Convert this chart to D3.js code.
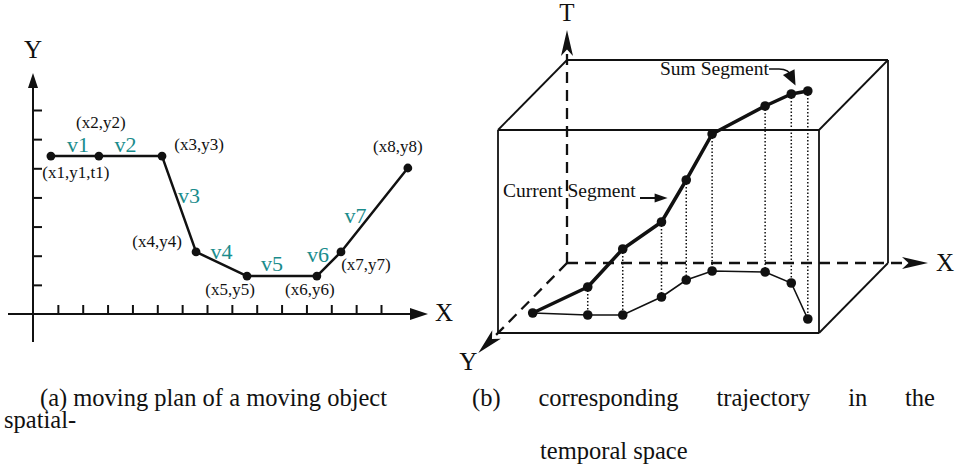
<!DOCTYPE html>
<html>
<head>
<meta charset="utf-8">
<script src="https://cdn.jsdelivr.net/npm/d3@7"></script>
<style>
  body { margin: 0; background: #fff; }
  text { font-family: "Liberation Serif", "Times New Roman", serif; fill: #111; }
</style>
</head>
<body>
<script>
// (a) moving plan, in grid units
const planX = [0.72, 2.65, 5.19, 6.56, 8.61, 11.42, 12.39, 15.08];
const planY = [5.42, 5.42, 5.42, 2.13, 1.3, 1.3, 2.13, 5.01];
const pointLabels = ["(x1,y1,t1)", "(x2,y2)", "(x3,y3)", "(x4,y4)", "(x5,y5)", "(x6,y6)", "(x7,y7)", "(x8,y8)"];
const speedLabels = ["v1", "v2", "v3", "v4", "v5", "v6", "v7"];
const xTicks = d3.range(1, 15);
const yTicks = d3.range(1, 8);

// (b) trajectory in x / depth(y) / time
const trajX = [15, 72, 107, 128, 136, 153, 207, 244, 296];
const trajY = [50, 52, 52, 34, 17, 8, 9, 20, 56];
const trajT = [0, 28, 66, 75, 100, 137, 166, 189, 228];

const captionA = ["(a) moving plan of a moving object", "spatial-"];
const captionB = ["(b)", "corresponding", "trajectory", "in", "the"];
const captionB2 = "temporal space";

const ink = "#111";
const teal = "#1a8c8c";

const svg = d3.select("body").append("svg").attr("width", 955).attr("height", 475);

const arrow = function (g, tip, angle, len, half, notch) {
  const c = Math.cos(angle), s = Math.sin(angle);
  const bx = tip[0] - c * len, by = tip[1] - s * len;
  const p1 = [bx - s * half, by + c * half];
  const p2 = [bx + s * half, by - c * half];
  const n = [tip[0] - c * len * (1 - notch), tip[1] - s * len * (1 - notch)];
  g.append("path")
    .attr("d", `M${tip}L${p1}L${n}L${p2}Z`)
    .attr("fill", ink);
};

// ---------- left panel ----------
const x = d3.scaleLinear().domain([0, 14]).range([33, 381]);
const y = d3.scaleLinear().domain([0, 7]).range([314, 110]);
const left = svg.append("g");

left.append("g")
  .attr("transform", `translate(0,${y(0)})`)
  .call(d3.axisTop(x).tickValues(xTicks).tickSize(9).tickFormat(""))
  .call((g) => g.select(".domain").remove())
  .selectAll("line").attr("stroke", ink).attr("stroke-width", 2);

left.append("g")
  .attr("transform", `translate(${x(0)},0)`)
  .call(d3.axisRight(y).tickValues(yTicks).tickSize(9).tickFormat(""))
  .call((g) => g.select(".domain").remove())
  .selectAll("line").attr("stroke", ink).attr("stroke-width", 2);

left.append("line")
  .attr("x1", 8).attr("x2", 414).attr("y1", y(0)).attr("y2", y(0))
  .attr("stroke", ink).attr("stroke-width", 2);
arrow(left, [428, y(0)], 0, 18, 6, 0);
left.append("line")
  .attr("x1", x(0)).attr("x2", x(0)).attr("y1", 342).attr("y2", 86)
  .attr("stroke", ink).attr("stroke-width", 2);
arrow(left, [x(0), 73], -Math.PI / 2, 15, 5, 0);

left.append("text").attr("x", 444).attr("y", 321).attr("text-anchor", "middle")
  .style("font-size", "25px").text("X");
left.append("text").attr("x", 33).attr("y", 58).attr("text-anchor", "middle")
  .style("font-size", "25px").text("Y");

const plan = planX.map((d, i) => [x(d), y(planY[i])]);

left.append("path")
  .datum(plan)
  .attr("d", d3.line())
  .attr("fill", "none")
  .attr("stroke", ink)
  .attr("stroke-width", 2.5)
  .attr("stroke-linejoin", "round");

left.selectAll("circle")
  .data(plan)
  .enter()
  .append("circle")
  .attr("cx", (d) => d[0])
  .attr("cy", (d) => d[1])
  .attr("r", 4.4)
  .attr("fill", ink);

// label offsets from their points / segment midpoints
const pointOffsets = [[25, 22], [2, -28], [37, -6], [-39, -5], [-17, 19], [-7, 19], [25, 18], [-10, -16]];
const speedOffsets = [[3, -4], [-5, -4], [10, -1], [0, -5], [-10, -5], [-11, -2], [-19, 13]];

left.selectAll(".pl")
  .data(pointLabels)
  .enter()
  .append("text")
  .attr("x", (d, i) => plan[i][0] + pointOffsets[i][0])
  .attr("y", (d, i) => plan[i][1] + pointOffsets[i][1])
  .attr("text-anchor", "middle")
  .style("font-size", "17px")
  .text((d) => d);

left.selectAll(".vl")
  .data(speedLabels)
  .enter()
  .append("text")
  .attr("x", (d, i) => (plan[i][0] + plan[i + 1][0]) / 2 + speedOffsets[i][0])
  .attr("y", (d, i) => (plan[i][1] + plan[i + 1][1]) / 2 + speedOffsets[i][1])
  .attr("text-anchor", "middle")
  .style("font-size", "22px")
  .style("fill", teal)
  .text((d) => d);

// ---------- right panel ----------
const xs = d3.scaleLinear().domain([0, 321]).range([567, 888]);
const ts = d3.scaleLinear().domain([0, 203]).range([263, 60]);
const ds = d3.scaleLinear().domain([0, 70]).range([0, 70]);
const proj = (px, py, pt) => [xs(px) - ds(py) * 69 / 70, ts(pt) + ds(py)];

const right = svg.append("g");
const box = { x: 321, y: 70, t: 203 };

const edges = [
  [[0, box.y, 0], [box.x, box.y, 0]],
  [[box.x, box.y, 0], [box.x, box.y, box.t]],
  [[box.x, box.y, box.t], [0, box.y, box.t]],
  [[0, box.y, box.t], [0, box.y, 0]],
  [[0, box.y, box.t], [0, 0, box.t]],
  [[0, 0, box.t], [box.x, 0, box.t]],
  [[box.x, 0, box.t], [box.x, box.y, box.t]],
  [[box.x, 0, box.t], [box.x, 0, 0]],
  [[box.x, 0, 0], [box.x, box.y, 0]]
];

right.selectAll(".edge")
  .data(edges)
  .enter()
  .append("line")
  .attr("x1", (d) => proj(...d[0])[0])
  .attr("y1", (d) => proj(...d[0])[1])
  .attr("x2", (d) => proj(...d[1])[0])
  .attr("y2", (d) => proj(...d[1])[1])
  .attr("stroke", ink)
  .attr("stroke-width", 1.8);

// dashed axes from the hidden corner
const axes = [
  { end: [0, 0, 233], back: [0, 0, 211], label: "T", dx: 0, dy: -9 },
  { end: [361, 0, 0], back: [338, 0, 0], label: "X", dx: 17, dy: 8 },
  { end: [0, 90, 0], back: [0, 72, 0], label: "Y", dx: -10, dy: 17 }
];

axes.forEach((a) => {
  const o = proj(0, 0, 0), b = proj(...a.back), e = proj(...a.end);
  right.append("line")
    .attr("x1", o[0]).attr("y1", o[1]).attr("x2", b[0]).attr("y2", b[1])
    .attr("stroke", ink).attr("stroke-width", 2.3)
    .attr("stroke-dasharray", "11,7");
  arrow(right, e, Math.atan2(e[1] - o[1], e[0] - o[0]), 26, 6, 0.25);
  right.append("text")
    .attr("x", e[0] + a.dx).attr("y", e[1] + a.dy)
    .attr("text-anchor", "middle")
    .style("font-size", "25px")
    .text(a.label);
});

const upper = trajX.map((d, i) => proj(d, trajY[i], trajT[i]));
const lower = trajX.map((d, i) => proj(d, trajY[i], 0));

right.selectAll(".drop")
  .data(d3.range(1, trajX.length))
  .enter()
  .append("line")
  .attr("x1", (i) => upper[i][0])
  .attr("y1", (i) => upper[i][1])
  .attr("x2", (i) => lower[i][0])
  .attr("y2", (i) => lower[i][1])
  .attr("stroke", ink)
  .attr("stroke-width", 1.5)
  .attr("stroke-dasharray", "1.5,2");

right.append("path")
  .datum(lower)
  .attr("d", d3.line())
  .attr("fill", "none")
  .attr("stroke", ink)
  .attr("stroke-width", 1.6);

right.append("path")
  .datum(upper)
  .attr("d", d3.line())
  .attr("fill", "none")
  .attr("stroke", ink)
  .attr("stroke-width", 3.5)
  .attr("stroke-linejoin", "round");

right.selectAll(".dot")
  .data(upper.concat(lower.slice(1)))
  .enter()
  .append("circle")
  .attr("cx", (d) => d[0])
  .attr("cy", (d) => d[1])
  .attr("r", 4.8)
  .attr("fill", ink);

// annotations
right.append("text").attr("x", 503).attr("y", 197)
  .style("font-size", "19.5px").text("Current Segment");
const cs = [upper[3][0] + (upper[4][0] - upper[3][0]) * 0.57 - 8, 198];
right.append("line")
  .attr("x1", 640).attr("y1", cs[1]).attr("x2", cs[0] - 10).attr("y2", cs[1])
  .attr("stroke", ink).attr("stroke-width", 2);
arrow(right, cs, 0, 13, 4.5, 0);

right.append("text").attr("x", 660).attr("y", 75)
  .style("font-size", "19.5px").text("Sum Segment");
const ss = [(upper[7][0] + upper[8][0]) / 2 - 4, (upper[7][1] + upper[8][1]) / 2 - 7];
right.append("path")
  .attr("d", `M769,69L779,69C786,69 790,72 ${ss[0] - 4},${ss[1] - 9}`)
  .attr("fill", "none").attr("stroke", ink).attr("stroke-width", 1.6);
arrow(right, ss, 1.1, 15, 6.5, 0);

// ---------- captions ----------
svg.append("text").attr("x", 40).attr("y", 406)
  .style("font-size", "24.5px").text(captionA[0]);
svg.append("text").attr("x", 4).attr("y", 428)
  .style("font-size", "24.5px").text(captionA[1]);

const words = svg.selectAll(".cb")
  .data(captionB)
  .enter()
  .append("text")
  .attr("y", 406)
  .style("font-size", "24.5px")
  .text((d) => d);
const widths = words.nodes().map((n) => n.getComputedTextLength());
const gap = (935 - 472 - d3.sum(widths)) / (captionB.length - 1);
let cx = 472;
words.attr("x", (d, i) => {
  const p = cx;
  cx += widths[i] + gap;
  return p;
});

svg.append("text").attr("x", 540).attr("y", 459)
  .style("font-size", "24.5px").text(captionB2);
</script>
</body>
</html>
